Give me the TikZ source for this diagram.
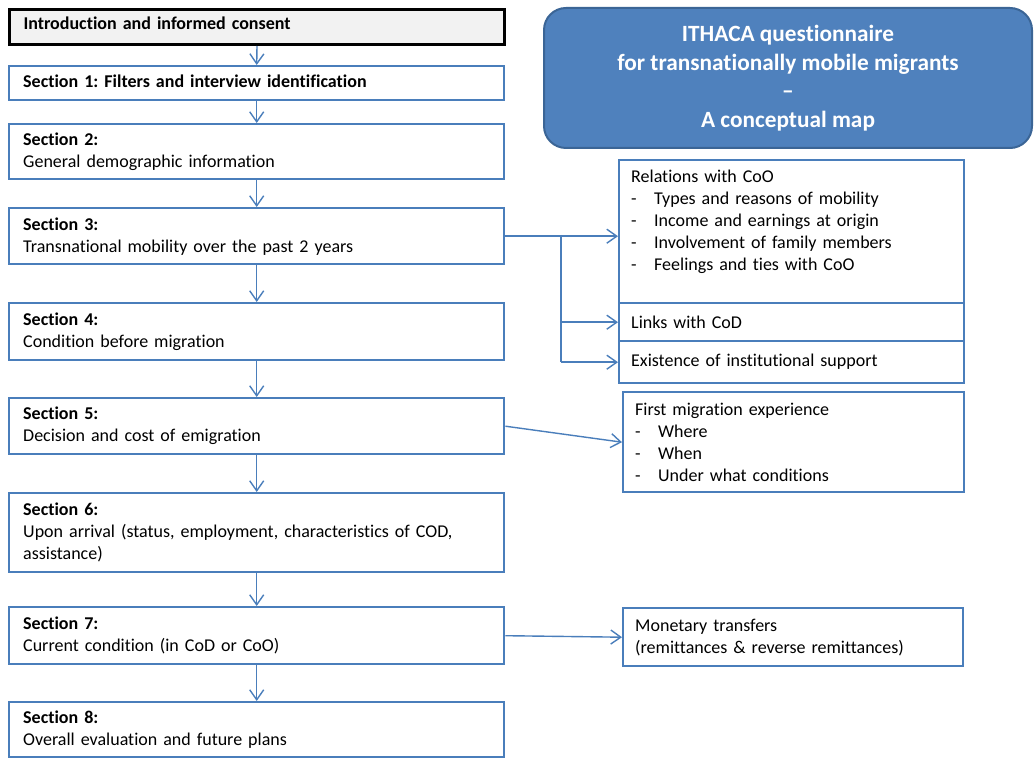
\documentclass[tikz,border=0pt]{standalone}
\usepackage{fontspec}
\setmainfont{Carlito}[Ligatures={TeX,NoCommon}]
\usetikzlibrary{arrows.meta}
\definecolor{bl}{HTML}{4F81BD}
\definecolor{bld}{HTML}{3B6596}
\definecolor{ln}{HTML}{4A7EBB}
\definecolor{introfill}{HTML}{F2F2F2}
\frenchspacing
\tikzset{
  boxbase/.style={rectangle, anchor=north west, inner ysep=0pt, align=left,
    font=\fontsize{18}{22}\selectfont},
  sec/.style={boxbase, draw=ln, line width=2.4pt, minimum width=495pt,
    text width=467pt, inner xsep=14pt},
  side/.style={boxbase, draw=ln, line width=2.4pt, inner xsep=12pt},
  conn/.style={draw=ln, line width=1.4pt, -{Straight Barb[length=10pt,width=14pt]}},
  plain/.style={draw=ln, line width=1.4pt},
}
\newcommand{\itm}[1]{\makebox[23pt][l]{-}#1}
\begin{document}
\begin{tikzpicture}[x=1pt,y=-1pt]
\useasboundingbox (0,0) rectangle (1034,759);
% title
\node[rectangle, rounded corners=22pt, fill=bl, draw=bld, line width=2pt,
  minimum width=488pt, minimum height=140pt, anchor=north west,
  text=white, align=center, font=\bfseries\fontsize{23.3}{28.5}\selectfont]
  (title) at (543,7) {ITHACA questionnaire\\for transnationally mobile migrants\\–\\A conceptual map};
% left column
\node[sec, draw=black, line width=3pt, fill=introfill, minimum height=35pt] (intro) at (8,8)
  {\textbf{Introduction and informed consent}\rule[-7pt]{0pt}{7pt}};
\node[sec, minimum height=34pt] (s1) at (8,65) {\textbf{Section 1: Filters and interview identification}\rule[-5pt]{0pt}{5pt}};
\node[sec, minimum height=55pt] (s2) at (8,123) {\textbf{Section 2:}\\General demographic information};
\node[sec, minimum height=56pt] (s3) at (8,207) {\textbf{Section 3:}\\Transnational mobility over the past 2 years};
\node[sec, minimum height=57pt] (s4) at (8,302) {\textbf{Section 4:}\\Condition before migration};
\node[sec, minimum height=56pt] (s5) at (8,397) {\textbf{Section 5:}\\Decision and cost of emigration};
\node[sec, minimum height=79pt] (s6) at (8,492) {\textbf{Section 6:}\\Upon arrival (status, employment, characteristics of COD,\\assistance)};
\node[sec, minimum height=57pt] (s7) at (8,606) {\textbf{Section 7:}\\Current condition (in CoD or CoO)};
\node[sec, minimum height=55pt] (s8) at (8,701) {\textbf{Section 8:}\\Overall evaluation and future plans};
% right column
\node[side, minimum width=345pt, text width=321pt, minimum height=143pt] (rel) at (618,159)
  {Relations with CoO\\\itm{Types and reasons of mobility}\\\itm{Income and earnings at origin}\\\itm{Involvement of family members}\\\itm{Feelings and ties with CoO}\\[-6pt]\strut};
\node[side, minimum width=345pt, text width=321pt, minimum height=38pt] (links) at (618,302) {Links with CoD};
\node[side, minimum width=345pt, text width=321pt, minimum height=42pt] (exist) at (618,340) {Existence of institutional support};
\node[side, minimum width=341pt, text width=317pt, minimum height=100pt] (first) at (622,391)
  {First migration experience\\\itm{Where}\\\itm{When}\\\itm{Under what conditions}};
\node[side, minimum width=340pt, text width=316pt, minimum height=58pt] (mon) at (622,607)
  {Monetary transfers\\(remittances \& reverse remittances)};
% vertical flow
\draw[conn] (intro.south) -- (s1.north);
\draw[conn] (s1.south) -- (s2.north);
\draw[conn] (s2.south) -- (s3.north);
\draw[conn] (s3.south) -- (s4.north);
\draw[conn] (s4.south) -- (s5.north);
\draw[conn] (s5.south) -- (s6.north);
\draw[conn] (s6.south) -- (s7.north);
\draw[conn] (s7.south) -- (s8.north);
% branches
\coordinate (br) at (561,235);
\draw[conn] (s3.east) -- (s3.east -| rel.west);
\draw[plain] (br) -- (br |- exist.west);
\draw[conn] (br |- links.west) -- (links.west);
\draw[conn] (br |- exist.west) -- (exist.west);
\draw[conn] (s5.east) -- (first.west);
\draw[conn] (s7.east) -- (mon.west);
\end{tikzpicture}
\end{document}
